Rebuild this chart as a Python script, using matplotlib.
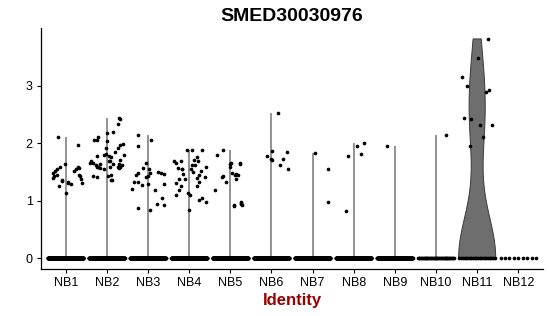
import numpy as np
import matplotlib
matplotlib.use("Agg")
import matplotlib.pyplot as plt

plt.rcParams['font.family'] = ['Liberation Sans', 'DejaVu Sans']

# ============================================================
# DATA
gene = "SMED30030976"
groups = ["NB1", "NB2", "NB3", "NB4", "NB5", "NB6", "NB7", "NB8", "NB9", "NB10", "NB11", "NB12"]

# number of cells with zero expression per cluster
n_zero = [400, 400, 400, 400, 400, 300, 300, 300, 250, 40, 22, 9]

# non-zero expression values per cluster
nb1_vals = [2.10, 1.96, 1.63, 1.58, 1.55, 1.52, 1.48, 1.42, 1.44, 1.34, 1.26, 1.33, 1.29, 1.13,
            1.51, 1.55, 1.58, 1.57, 1.42, 1.38, 1.30, 1.44, 1.40, 1.35, 1.31]
nb2_vals = [2.43, 2.41, 2.33, 2.20, 2.17, 2.05, 2.11, 2.06, 2.04, 1.97, 1.99, 1.91, 1.91, 1.84,
            1.78, 1.80, 1.81, 1.78, 1.76, 1.80, 1.71, 1.68, 1.65, 1.62, 1.58, 1.57, 1.54, 1.58,
            1.68, 1.64, 1.58, 1.45, 1.36, 1.42, 1.41, 1.66, 1.59, 1.64, 1.68, 1.64, 1.58, 1.62,
            1.43, 1.35, 1.57]
nb3_vals = [2.14, 1.94, 2.05, 1.66, 1.56, 1.48, 1.45, 1.54, 1.48, 1.41, 1.42, 1.49, 1.48, 1.47,
            1.33, 1.33, 1.27, 1.29, 1.20, 1.19, 1.29, 1.04, 0.94, 0.93, 0.87, 0.84]
nb4_vals = [1.88, 1.88, 1.88, 1.76, 1.70, 1.68, 1.68, 1.66, 1.62, 1.58, 1.57, 1.54, 1.54, 1.49,
            1.51, 1.47, 1.45, 1.39, 1.37, 1.37, 1.33, 1.30, 1.26, 1.25, 1.18, 1.10, 1.10, 1.04,
            1.01, 0.98, 0.84, 1.68, 1.54, 1.13, 1.62, 1.41]
nb5_vals = [1.88, 1.80, 1.66, 1.66, 1.58, 1.48, 1.47, 1.41, 1.37, 1.33, 1.19, 0.93, 0.94, 0.93,
            0.97, 1.42, 1.64, 1.64, 1.45, 1.45, 0.91, 0.96]
nb6_vals = [2.53, 1.87, 1.84, 1.77, 1.72, 1.70, 1.73, 1.62, 1.54]
nb7_vals = [1.83, 1.55, 0.98]
nb8_vals = [1.78, 0.81, 1.94, 2.00, 1.81]
nb9_vals = [1.95]
nb10_vals = [2.14]
nb11_vals = [3.81, 3.48, 3.14, 3.00, 2.93, 2.89, 2.43, 2.41, 2.32, 2.32, 2.10, 1.94]
nb12_vals = []

# ============================================================
# horizontal jitter of the non-zero points (positions)
nb1_jit = [-0.18, 0.31, -0.02, -0.14, -0.20, -0.26, -0.30, -0.28, -0.22, -0.08, -0.16, 0.05, 0.13, 0.0,
           0.19, 0.24, 0.29, 0.33, 0.35, 0.37, 0.39, 0.32, -0.30, -0.10, 0.06]
nb2_jit = [0.29, 0.32, 0.27, 0.15, 0.0, -0.32, -0.22, -0.25, 0.0, 0.33, 0.40, 0.27, -0.01, 0.21,
           -0.25, -0.06, -0.01, 0.05, 0.09, 0.41, 0.33, -0.38, -0.33, -0.27, -0.22, -0.17, -0.06, 0.07,
           0.05, 0.29, 0.33, 0.10, 0.13, -0.33, -0.24, -0.40, -0.25, -0.17, 0.07, 0.15, 0.27, 0.36,
           0.03, 0.11, 0.30]
nb3_jit = [-0.25, -0.25, 0.07, -0.06, -0.12, -0.24, -0.28, 0.02, 0.04, -0.06, -0.01, 0.25, 0.32, 0.40,
           -0.34, -0.24, -0.14, -0.01, -0.38, 0.16, 0.40, 0.33, 0.23, 0.40, -0.25, 0.04]
nb4_jit = [-0.06, 0.07, 0.32, 0.19, 0.13, 0.21, -0.20, -0.33, 0.15, 0.40, -0.28, -0.17, 0.05, 0.09,
           0.29, -0.14, 0.24, 0.19, -0.25, -0.09, 0.25, -0.32, -0.20, 0.19, -0.25, -0.32, 0.02, 0.32,
           0.24, 0.41, -0.01, -0.37, -0.18, -0.02, 0.07, 0.39]
nb5_jit = [-0.17, -0.33, 0.02, 0.24, -0.01, 0.05, 0.15, -0.20, 0.13, -0.11, -0.38, 0.09, 0.25, 0.29,
           0.27, -0.18, 0.0, 0.23, 0.12, 0.18, 0.08, 0.26]
nb6_jit = [0.15, 0.02, 0.37, -0.11, -0.01, 0.01, 0.27, 0.21, 0.40]
nb7_jit = [0.06, 0.38, 0.38]
nb8_jit = [-0.13, -0.18, 0.09, 0.25, 0.17]
nb9_jit = [-0.20]
nb10_jit = [0.25]
nb11_jit = [0.26, 0.03, -0.37, -0.25, 0.28, 0.22, -0.32, -0.15, 0.07, 0.36, 0.15, -0.17]
nb12_jit = []

values = [nb1_vals, nb2_vals, nb3_vals, nb4_vals, nb5_vals, nb6_vals,
          nb7_vals, nb8_vals, nb9_vals, nb10_vals, nb11_vals, nb12_vals]
jitter = [nb1_jit, nb2_jit, nb3_jit, nb4_jit, nb5_jit, nb6_jit,
          nb7_jit, nb8_jit, nb9_jit, nb10_jit, nb11_jit, nb12_jit]

# ============================================================
fig = plt.figure(figsize=(5.5, 3.16), dpi=100)
ax = fig.add_axes([41/550, 47/316, 502/550, 241/316])


def kde(data, grid, bw):
    d = (grid[:, None] - np.asarray(data)[None, :]) / bw
    return np.exp(-0.5*d**2).sum(axis=1) / (len(data)*bw*np.sqrt(2*np.pi))


for i, (vals, jit, nz) in enumerate(zip(values, jitter, n_zero)):
    xc = i + 1
    if len(vals) == 0:
        pass
    elif len(vals) > 10 and nz < 50:
        # proper violin (trimmed, scaled to width 0.9)
        full = np.concatenate([np.zeros(nz), vals])
        grid = np.linspace(0, max(full), 512)
        dens = kde(full, grid, 0.75)
        half = 0.45*dens/dens.max()
        ax.fill(np.concatenate([xc - half, (xc + half)[::-1]]),
                np.concatenate([grid, grid[::-1]]),
                facecolor='#6e6e6e', edgecolor='#3a3a3a', lw=0.7, zorder=2)
    else:
        ax.vlines(xc, 0, max(vals), color='#8a8a8a', lw=1.3, zorder=2)

    # zero band
    zx = xc + np.linspace(-0.43, 0.43, nz)
    ax.scatter(zx, np.zeros(nz), s=7, color='black', lw=0, zorder=3)
    # non-zero cells
    ax.scatter(xc + np.asarray(jit), vals, s=7, color='black', lw=0, zorder=3)

ax.set_xlim(0.4, 12.6)
ax.set_ylim(-0.19, 4.0)
ax.set_xticks(range(1, len(groups) + 1))
ax.set_xticklabels(groups, fontsize=9)
ax.set_yticks([0, 1, 2, 3])
ax.set_yticklabels(['0', '1', '2', '3'], fontsize=9)
ax.tick_params(length=3, width=0.8, color='black', pad=3)
for s in ['top', 'right']:
    ax.spines[s].set_visible(False)
for s in ['left', 'bottom']:
    ax.spines[s].set_linewidth(0.9)

ax.set_title(gene, fontsize=14, fontweight='bold', pad=5)
ax.set_xlabel('Identity', fontsize=12, fontweight='bold', color='#990000', labelpad=3)

fig.savefig('out.png', dpi=100)
